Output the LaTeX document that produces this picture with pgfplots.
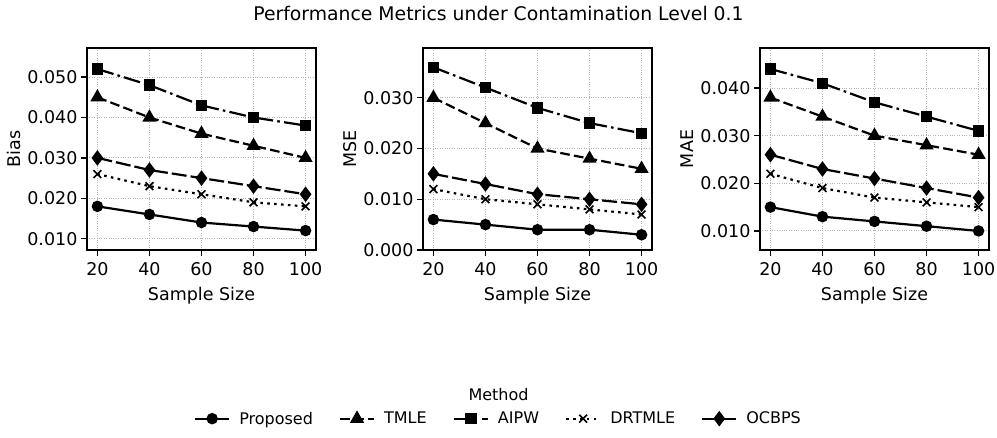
\documentclass[border=0pt]{standalone}
\usepackage{fontspec}
\setmainfont{DejaVu Sans}
\usepackage{pgfplots}
\usepackage{pgfplotstable}
\pgfplotsset{compat=1.18}

% n  proposed tmle aipw drtmle ocbps
\pgfplotstableread{
n   prop  tmle  aipw  drt   ocb
20  0.018 0.045 0.052 0.026 0.030
40  0.016 0.040 0.048 0.023 0.027
60  0.014 0.036 0.043 0.021 0.025
80  0.013 0.033 0.040 0.019 0.023
100 0.012 0.030 0.038 0.018 0.021
}\biastab
\pgfplotstableread{
n   prop  tmle  aipw  drt   ocb
20  0.006 0.030 0.036 0.012 0.015
40  0.005 0.025 0.032 0.010 0.013
60  0.004 0.020 0.028 0.009 0.011
80  0.004 0.018 0.025 0.008 0.010
100 0.003 0.016 0.023 0.007 0.009
}\msetab
\pgfplotstableread{
n   prop  tmle  aipw  drt   ocb
20  0.015 0.038 0.044 0.022 0.026
40  0.013 0.034 0.041 0.019 0.023
60  0.012 0.030 0.037 0.017 0.021
80  0.011 0.028 0.034 0.016 0.019
100 0.010 0.026 0.031 0.015 0.017
}\maetab

\newcommand{\fs}{\fontsize{17.5}{21}\selectfont}
\newcommand{\lfs}{\fontsize{16}{19}\selectfont}

\pgfplotsset{
  panel/.style={
    scale only axis, width=229pt, height=202pt,
    anchor=south west,
    xmin=16, xmax=104, xtick={20,40,60,80,100},
    axis line style={line width=1.4pt},
    tick style={line width=1.4pt, black},
    major tick length=6pt,
    tick align=outside, tick pos=left,
    grid=major, grid style={dotted, gray!60, line width=0.9pt},
    tick label style={font=\fs},
    label style={font=\fs},
    xticklabel style={yshift=-3pt},
    xlabel style={yshift=-5pt},
    /pgf/number format/assume math mode=true,
    yticklabel style={/pgf/number format/.cd, fixed, fixed zerofill, precision=3},
    scaled y ticks=false,
    xlabel={Sample Size},
    every axis plot/.append style={line width=2.2pt, black},
    legend image code/.code={%
      \draw[mark repeat=2,mark phase=2] plot coordinates {(0pt,0pt) (17pt,0pt) (34pt,0pt)};},
  },
  sprop/.style={solid, mark=*, mark size=4.6pt, mark options={solid, fill=black}},
  stmle/.style={dash pattern=on 9.7pt off 4.2pt, mark=triangle*, mark size=6pt, mark options={solid, fill=black}},
  saipw/.style={dash pattern=on 16.8pt off 4.2pt on 2.6pt off 4.2pt, mark=square*, mark size=4.6pt, mark options={solid, fill=black}},
  sdrt/.style={dash pattern=on 2.6pt off 4.3pt, mark=x, mark size=5.5pt, mark options={solid, line width=1.6pt}},
  socb/.style={dash pattern=on 15pt off 4pt, mark=diamond*, mark size=6pt, mark options={solid, fill=black}},
}

\newcommand{\drawall}[1]{%
  \addplot[sprop] table[x=n, y=prop] {#1};
  \addplot[stmle] table[x=n, y=tmle] {#1};
  \addplot[saipw] table[x=n, y=aipw] {#1};
  \addplot[sdrt] table[x=n, y=drt] {#1};
  \addplot[socb] table[x=n, y=ocb] {#1};
}

\begin{document}
\begin{tikzpicture}
\path[use as bounding box] (0,0) rectangle (997pt,437pt);

\begin{axis}[panel, at={(87pt,187pt)}, ylabel={Bias},
  ymin=0.0072, ymax=0.0572, ytick={0.01,0.02,0.03,0.04,0.05}]
  \drawall{\biastab}
\end{axis}

\begin{axis}[panel, at={(423pt,187pt)}, ylabel={MSE},
  ymin=0, ymax=0.0398, ytick={0,0.01,0.02,0.03},
  legend columns=5,
  legend style={at={(rel axis cs:0.3297,-0.835)}, anchor=center, draw=none, fill=none,
    font=\lfs,
    /tikz/every odd column/.append style={column sep=7pt},
    /tikz/every even column/.append style={column sep=24pt}},
  ]
  \drawall{\msetab}
  \legend{Proposed, TMLE, AIPW, DRTMLE, OCBPS}
\end{axis}

\begin{axis}[panel, at={(760pt,187pt)}, ylabel={MAE},
  ymin=0.006, ymax=0.0484, ytick={0.01,0.02,0.03,0.04}]
  \drawall{\maetab}
\end{axis}

\node[font=\fontsize{18.8}{22}\selectfont] at (498.5pt,424pt) {Performance Metrics under Contamination Level 0.1};
\node[font=\lfs] at (498.5pt,42pt) {Method};
\end{tikzpicture}
\end{document}
